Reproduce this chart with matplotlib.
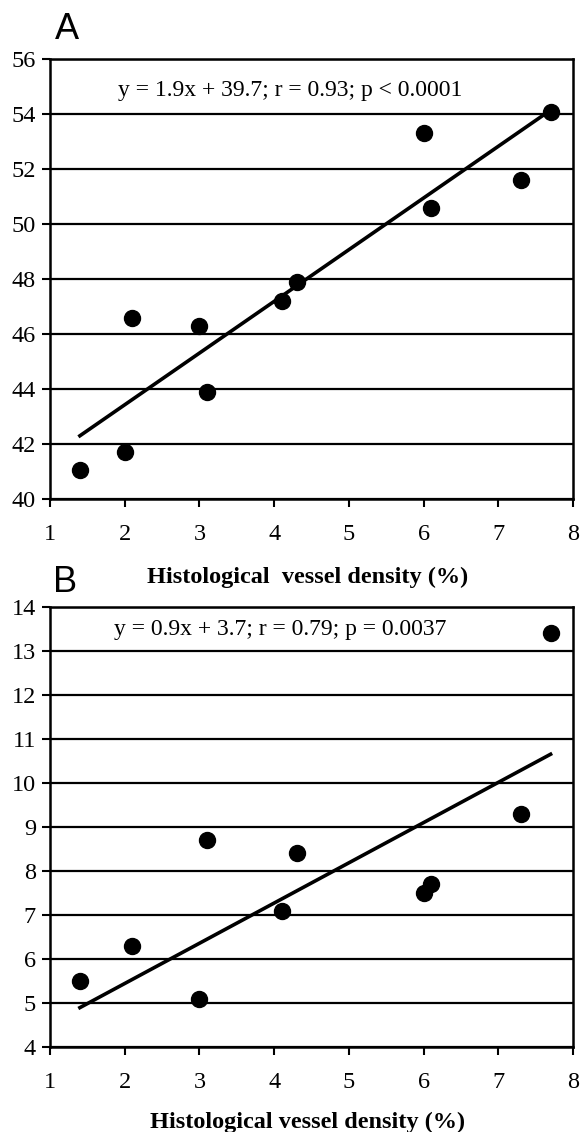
import numpy as np
import matplotlib
matplotlib.use('Agg')
import matplotlib.pyplot as plt

# panel A data
xa = [1.4, 2.0, 2.1, 3.0, 3.1, 4.1, 4.3, 6.0, 6.1, 7.3, 7.7]
ya = [41.05, 41.7, 46.6, 46.3, 43.9, 47.2, 47.9, 53.3, 50.6, 51.6, 54.1]
fit_x_a = [1.4, 7.7]
fit_y_a = [42.3, 54.15]
eq_a = 'y = 1.9x + 39.7; r = 0.93; p < 0.0001'

# panel B data
xb = [1.4, 2.1, 3.0, 3.1, 4.1, 4.3, 6.0, 6.1, 7.3, 7.7]
yb = [5.5, 6.3, 5.1, 8.7, 7.1, 8.4, 7.5, 7.7, 9.3, 13.4]
fit_x_b = [1.4, 7.7]
fit_y_b = [4.9, 10.65]
eq_b = 'y = 0.9x + 3.7; r = 0.79; p = 0.0037'

xticks = range(1, 9)
yticks_a = range(40, 57, 2)
yticks_b = range(4, 15)
xlabel = 'Histological  vessel density (%)'
xlabel_b = 'Histological vessel density (%)'

plt.rcParams['font.family'] = 'Liberation Serif'

fig = plt.figure(figsize=(5.81, 11.32), dpi=100)
W, H = 581, 1132

def setup(ax, yt, ylim):
    ax.set_xlim(1, 8)
    ax.set_ylim(*ylim)
    ax.set_xticks(list(xticks))
    ax.set_yticks(list(yt))
    for yy in yt:
        ax.axhline(yy, color='black', lw=1.6, zorder=1)
    for s in ax.spines.values():
        s.set_linewidth(1.8)
        s.set_color('black')
    ax.tick_params(axis='both', direction='out', length=6, width=1.5, labelsize=17.5)
    ax.tick_params(axis='x', pad=12)
    ax.tick_params(axis='y', pad=4)

# panel A
axA = fig.add_axes([50/W, 1-499/H, 523/W, 439.7/H])
setup(axA, yticks_a, (40, 56))
axA.plot(fit_x_a, fit_y_a, color='black', lw=2.6, zorder=2)
axA.plot(xa, ya, 'o', color='black', ms=11.5, zorder=3)
axA.text(4.21, 54.88, eq_a, ha='center', va='center', fontsize=17)
fig.text(308/W, 1-577/H, xlabel, ha='center', va='center', fontsize=17.5, fontweight='bold')
fig.text(55/W, 1-39/H, 'A', ha='left', va='baseline', fontsize=26, family='Liberation Sans')

# panel B
axB = fig.add_axes([50/W, 1-1047.3/H, 523/W, 440.7/H])
setup(axB, yticks_b, (4, 14))
axB.plot(fit_x_b, fit_y_b, color='black', lw=2.6, zorder=2)
axB.plot(xb, yb, 'o', color='black', ms=11.5, zorder=3)
axB.text(4.08, 13.47, eq_b, ha='center', va='center', fontsize=17)
fig.text(308/W, 1-1122/H, xlabel_b, ha='center', va='center', fontsize=17.5, fontweight='bold')
fig.text(53/W, 1-592/H, 'B', ha='left', va='baseline', fontsize=26, family='Liberation Sans')

fig.savefig('out.png', dpi=100)
